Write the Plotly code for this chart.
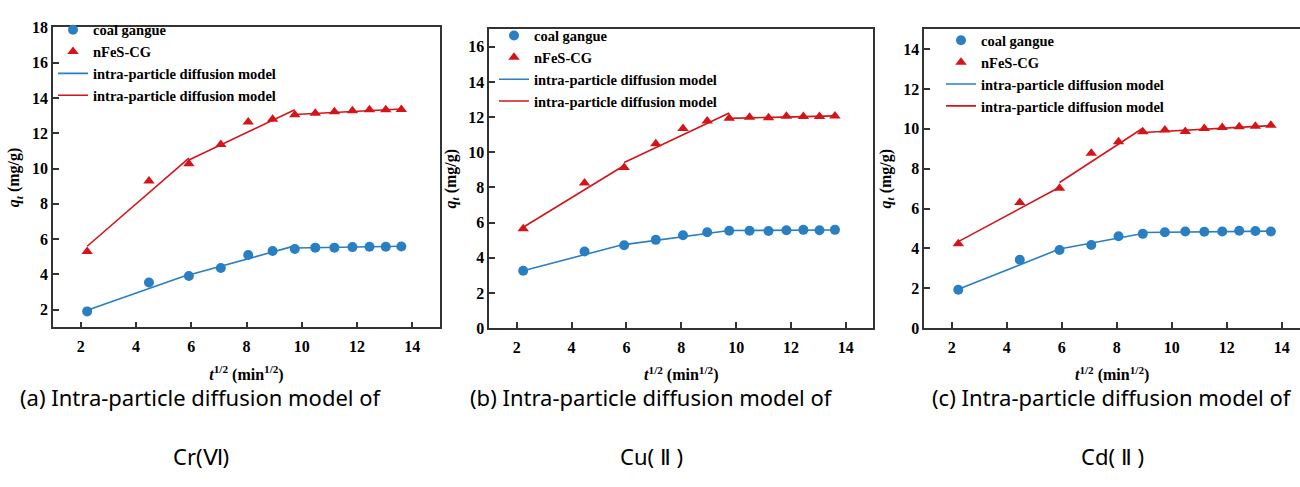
import numpy as np
import plotly.graph_objects as go

# ---------------- data ----------------
t_min = [5, 20, 35, 50, 65, 80, 95, 110, 125, 140, 155, 170, 185]
x_sqrt = [float(np.sqrt(v)) for v in t_min]

# (a) Cr(VI)
a_cg = [1.91, 3.55, 3.91, 4.37, 5.10, 5.33, 5.44, 5.52, 5.52, 5.55, 5.57, 5.57, 5.58]
a_nfes = [5.30, 9.30, 10.27, 11.36, 12.64, 12.79, 13.04, 13.13, 13.22, 13.28, 13.33, 13.33, 13.35]
# (b) Cu(II)
b_cg = [3.26, 4.36, 4.71, 5.02, 5.28, 5.45, 5.54, 5.54, 5.52, 5.57, 5.59, 5.57, 5.59]
b_nfes = [5.65, 8.25, 9.14, 10.48, 11.36, 11.78, 11.93, 12.00, 11.96, 12.05, 12.03, 12.03, 12.07]
# (c) Cd(II)
c_cg = [1.93, 3.43, 3.92, 4.17, 4.61, 4.73, 4.81, 4.85, 4.84, 4.85, 4.89, 4.87, 4.85]
c_nfes = [4.24, 6.30, 7.02, 8.77, 9.35, 9.85, 9.94, 9.87, 10.02, 10.07, 10.10, 10.13, 10.18]

# fitted intra-particle diffusion segments: [x0, y0, x1, y1]
a_fit_cg = [[2.236, 1.97, 5.916, 4.00], [5.916, 3.97, 9.747, 5.62], [9.747, 5.50, 13.601, 5.60]]
a_fit_nfes = [[2.236, 5.60, 5.916, 10.59], [5.916, 10.48, 9.747, 13.33], [9.747, 13.06, 13.601, 13.37]]
b_fit_cg = [[2.236, 3.26, 5.916, 4.77], [5.916, 4.75, 9.747, 5.55], [9.747, 5.55, 13.601, 5.58]]
b_fit_nfes = [[2.236, 5.74, 5.916, 9.25], [5.916, 9.42, 9.747, 12.24], [9.747, 11.93, 13.601, 12.07]]
c_fit_cg = [[2.236, 1.95, 5.916, 3.97], [5.916, 3.97, 8.944, 4.75], [8.944, 4.80, 13.601, 4.87]]
c_fit_nfes = [[2.236, 4.34, 5.916, 7.07], [5.916, 7.31, 8.944, 10.03], [8.944, 9.82, 13.601, 10.16]]

captions_1 = ["(a) Intra-particle diffusion model of",
              "(b) Intra-particle diffusion model of",
              "(c) Intra-particle diffusion model of"]
captions_2 = ["Cr(Ⅵ)", "Cu( Ⅱ )", "Cd( Ⅱ )"]

y_ranges = [[1, 18], [0, 17], [0, 15]]
x_ranges = [[1, 15], [1, 15], [1, 14.66]]

# ---------------- layout geometry ----------------
W, H = 1300, 487
BLUE = "#2a7ec2"
RED = "#d5141a"
AX = "#333333"
SERIF = "Liberation Serif"

panels = [
    dict(cg=a_cg, nf=a_nfes, fcg=a_fit_cg, fnf=a_fit_nfes, xpx=(53, 440), ypx=(20, 331), leg=(53, 6), cap=201),
    dict(cg=b_cg, nf=b_nfes, fcg=b_fit_cg, fnf=b_fit_nfes, xpx=(489.3, 873.3), ypx=(22, 331.7), leg=(494, 12), cap=651),
    dict(cg=c_cg, nf=c_nfes, fcg=c_fit_cg, fnf=c_fit_nfes, xpx=(924.3, 1300), ypx=(22, 331.7), leg=(941, 17), cap=1112),
]


def seg_xy(segs):
    xs, ys = [], []
    for s in segs:
        xs += [s[0], s[2], None]
        ys += [s[1], s[3], None]
    return xs, ys


fig = go.Figure()
layout = {}
for i, p in enumerate(panels):
    n = "" if i == 0 else str(i + 1)
    xa, ya = "x" + n, "y" + n
    lg = "legend" + n
    fig.add_trace(go.Scatter(x=x_sqrt, y=p["cg"], mode="markers", name="coal gangue",
                             marker=dict(symbol="circle", size=10, color=BLUE),
                             xaxis=xa, yaxis=ya, legend=lg))
    fig.add_trace(go.Scatter(x=x_sqrt, y=p["nf"], mode="markers", name="nFeS-CG",
                             marker=dict(symbol="triangle-up", size=10, color=RED),
                             xaxis=xa, yaxis=ya, legend=lg))
    fx, fy = seg_xy(p["fcg"])
    fig.add_trace(go.Scatter(x=fx, y=fy, mode="lines", name="intra-particle diffusion model",
                             line=dict(color=BLUE, width=1.6), connectgaps=False,
                             xaxis=xa, yaxis=ya, legend=lg))
    fx, fy = seg_xy(p["fnf"])
    fig.add_trace(go.Scatter(x=fx, y=fy, mode="lines", name="intra-particle diffusion model",
                             line=dict(color=RED, width=1.6), connectgaps=False,
                             xaxis=xa, yaxis=ya, legend=lg))

    x0, x1 = p["xpx"]
    y0, y1 = p["ypx"]
    layout["xaxis" + n] = dict(
        domain=[x0 / W, x1 / W], range=x_ranges[i], anchor=ya,
        tickmode="linear", tick0=2, dtick=2,
        ticks="inside", ticklen=6, tickwidth=1.5, tickcolor=AX,
        showline=True, linewidth=1.5, linecolor=AX, mirror=True,
        showgrid=False, zeroline=False, ticklabelstandoff=4,
        tickfont=dict(family=SERIF, size=16, color="black", weight="bold"),
        title=dict(text="<i>t</i><sup>1/2</sup> (min<sup>1/2</sup>)", standoff=14,
                   font=dict(family=SERIF, size=16, color="black", weight="bold")),
    )
    layout["yaxis" + n] = dict(
        domain=[1 - y1 / H, 1 - y0 / H], range=y_ranges[i], anchor=xa,
        tickmode="linear", tick0=0, dtick=2,
        ticks="inside", ticklen=6, tickwidth=1.5, tickcolor=AX,
        showline=True, linewidth=1.5, linecolor=AX, mirror=(i < 2),
        showgrid=False, zeroline=False,
        tickfont=dict(family=SERIF, size=16, color="black", weight="bold"),
        title=dict(text="<i>q<sub>t</sub></i> (mg/g)", standoff=8,
                   font=dict(family=SERIF, size=16, color="black", weight="bold")),
    )
    lx, ly = p["leg"]
    layout[lg] = dict(x=lx / W, y=1 - ly / H, xanchor="left", yanchor="top",
                      bgcolor="rgba(0,0,0,0)", borderwidth=0, tracegroupgap=0,
                      font=dict(family=SERIF, size=14.5, color="black", weight="bold"))

annotations = []
for i, p in enumerate(panels):
    annotations.append(dict(text=captions_1[i], x=p["cap"] / W, y=1 - 403 / H, xref="paper", yref="paper",
                            showarrow=False, xanchor="center", yanchor="middle",
                            font=dict(family="Noto Sans", size=22, color="black")))
    annotations.append(dict(text=captions_2[i], x=p["cap"] / W, y=1 - 464 / H, xref="paper", yref="paper",
                            showarrow=False, xanchor="center", yanchor="middle",
                            font=dict(family="Noto Sans", size=22, color="black")))

fig.update_layout(width=W, height=H, margin=dict(l=0, r=0, t=0, b=0),
                  paper_bgcolor="white", plot_bgcolor="white",
                  showlegend=True, annotations=annotations, **layout)

fig.write_html("out.html")
